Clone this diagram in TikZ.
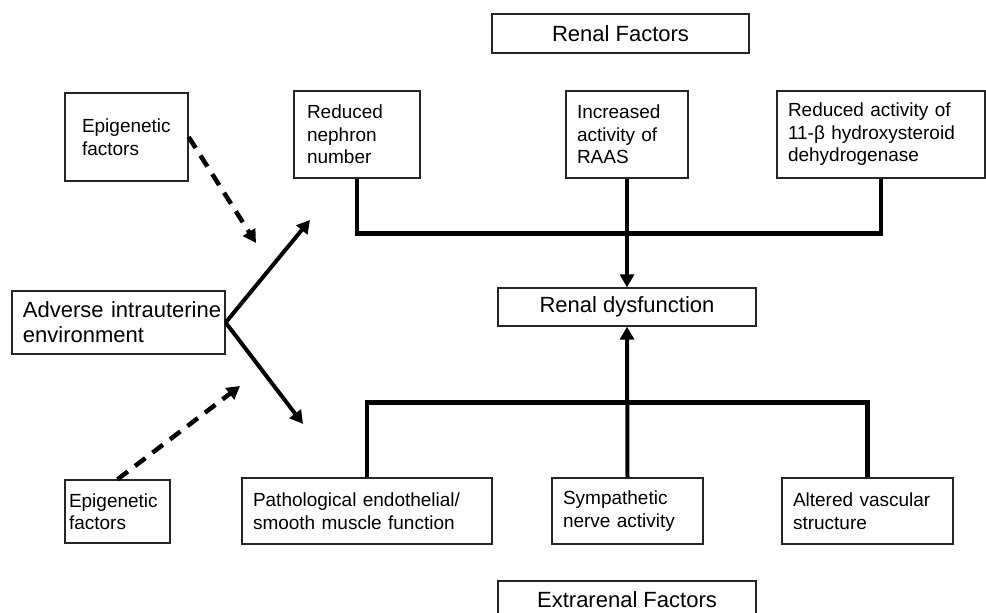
\documentclass[tikz,border=0pt]{standalone}
\usepackage{fontspec}
\setmainfont{Liberation Sans}
\usetikzlibrary{positioning,arrows.meta}

\tikzset{
  box/.style={draw=black!85,line width=1.3pt,inner ysep=0pt,align=left,
    font=\fontsize{19}{22.5}\selectfont},
  headbox/.style={box,align=center,font=\fontsize{22}{25}\selectfont},
  bar/.style={line width=4.5pt},
  arr/.style={line width=4pt,-{Triangle[length=13pt,width=14pt]}},
  dasharr/.style={arr,line width=4.5pt,dash pattern=on 13pt off 9pt},
}

\begin{document}
\begin{tikzpicture}[x=1pt,y=-1pt]

\useasboundingbox (0,0) rectangle (986,613);
%\draw[color=black!30,step=50](0,0)grid(986,613);

\node[headbox,minimum width=257pt,minimum height=39pt] (renal) at (620.5,33.5) {Renal Factors};
\node[headbox,minimum width=258pt,minimum height=38pt] (dys) at (627,307) {Renal dysfunction};
\node[headbox,minimum width=258pt,minimum height=38pt] (extra) at (627,600) {Extrarenal Factors};

\node[box,minimum width=123pt,minimum height=88pt,inner xsep=17pt,text width=89pt] (epitop) at (126.5,137) {Epigenetic\\factors};
\node[box,minimum width=105pt,minimum height=63pt,inner xsep=4pt,text width=97pt] (epibot) at (117.5,511.5) {Epigenetic\\factors};
\node[box,minimum width=213pt,minimum height=63pt,inner xsep=11pt,text width=191pt,
  font=\fontsize{22}{25}\selectfont] (adv) at (118.5,322.5) {\mbox{Adverse intrauterine}\\environment};

\node[box,minimum width=126pt,minimum height=87pt,inner xsep=13pt,text width=100pt] (neph) at (357,134.5) {Reduced\\nephron\\number};
\node[box,minimum width=122pt,minimum height=87pt,inner xsep=11pt,text width=100pt] (raas) at (627,134.5) {Increased\\activity of\\RAAS};
\node[box,minimum width=208pt,minimum height=87pt,inner xsep=11pt,text width=186pt] (hsd) at (881,134.5) {Reduced activity of\\11-β hydroxysteroid\\dehydrogenase};

\node[box,minimum width=250pt,minimum height=66pt,inner xsep=11pt,text width=228pt] (path) at (367,511) {Pathological endothelial/\\smooth muscle function};
\node[box,minimum width=151pt,minimum height=66pt,inner xsep=11pt,text width=129pt] (symp) at (627.5,511) {Sympathetic\\nerve activity};
\node[box,minimum width=171pt,minimum height=66pt,inner xsep=11pt,text width=149pt] (alt) at (867.5,511) {Altered vascular\\structure};

% renal side
\draw[bar] (neph.south) -- ++(0,55) -| (hsd.south);
\draw[arr] (raas.south) -- (dys.north);

% extrarenal side
\draw[bar] (path.north) -- ++(0,-75) -| (alt.north);
\draw[arr] (symp.north) -- (dys.south);

\coordinate (upend) at (310,220);
\coordinate (downend) at (303,424);
\coordinate (dashend1) at (256,243);
\coordinate (dashend2) at (240,386);

\draw[arr] (adv.east) -- (upend);
\draw[arr] (adv.east) -- (downend);
\draw[dasharr] (epitop.east) -- (dashend1);
\draw[dasharr] (epibot.north) -- (dashend2);

\end{tikzpicture}
\end{document}
